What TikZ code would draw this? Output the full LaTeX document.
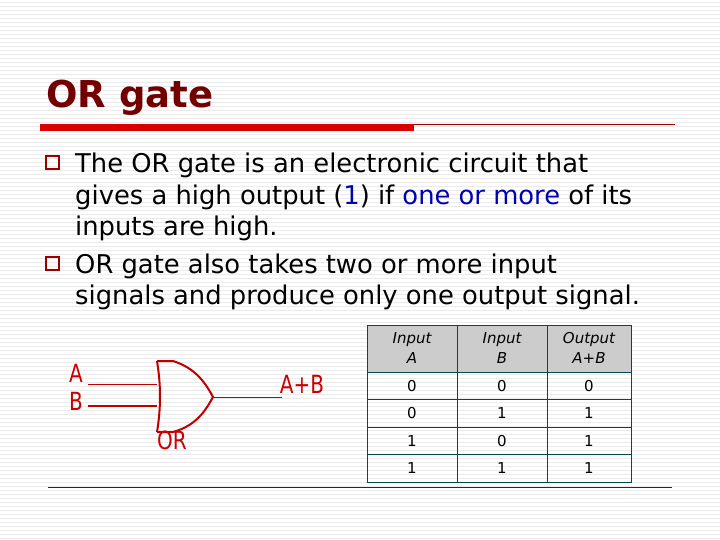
\documentclass[tikz,border=0pt]{standalone}
\usepackage{fontspec}
\setmainfont{DejaVu Sans}
\begin{document}
\begin{tikzpicture}[x=1pt,y=-1pt,
  body/.style={anchor=base west,inner sep=0pt,font=\fontsize{25.8}{30}\selectfont},
  cell/.style={font=\fontsize{15}{18}\selectfont,inner sep=0pt},
  gate/.style={draw=red!75!black,line width=2pt},
  glab/.style={text=red!80!black,font=\fontsize{25}{28}\selectfont,inner sep=0pt,xscale=0.8},
  bullet/.style={draw=red!60!black,line width=1.6pt}]
\useasboundingbox (0,0) rectangle (720,540);
\fill[white] (0,0) rectangle (720,540);
\foreach \y in {2,6,...,538} \draw[black!8,line width=0.6pt] (0,\y) -- (720,\y);
% title
\node[anchor=base west,inner sep=0pt,text=red!45!black,font=\fontsize{37}{44}\selectfont\bfseries] (title) at (46,108) {OR gate};
\fill[red!85!black] (40,124) rectangle (414,131);
\draw[red!60!black,line width=0.6pt] (414,124) -- (675,124);
% bullets
\draw[bullet] (46,156) rectangle (59,169);
\draw[bullet] (46,257) rectangle (59,270);
\node[body] (l1) at (75,173) {The OR gate is an electronic circuit that};
\node[body] (l2) at (75,205) {gives a high output (\textcolor{blue!70!black}{1}) if \textcolor{blue!70!black}{one or more} of its};
\node[body] (l3) at (75,236) {inputs are high.};
\node[body] (l4) at (75,273) {OR gate also takes two or more input};
\node[body] (l5) at (75,304) {signals and produce only one output signal.};
% gate
\draw[gate,line width=1pt] (88,384) -- (157,384);
\draw[gate] (88,406) -- (157,406);
\draw[gate] (157,361) -- (173,361) .. controls (195,368) and (205,382) .. (213,397) .. controls (205,412) and (195,426) .. (173,432) -- (157,432);
\draw[gate] (157,361) .. controls (161,385) and (161,408) .. (157,432);
\draw[gate,line width=1pt] (213,397) -- (282,397);
\node[glab] (a) at (76,373) {A};
\node[glab] (b) at (76,401) {B};
\node[glab] (ab) at (302,384) {A+B};
\node[glab] (or) at (172,440) {OR};
% table
\fill[black!20] (367,325) rectangle (631,372);
\draw[teal!60!black,line width=0.8pt] (367,325) rectangle (631,482);
\foreach \y in {372,399,427,454} \draw[teal!60!black,line width=0.8pt] (367,\y) -- (631,\y);
\foreach \x in {457,547} \draw[teal!60!black,line width=0.8pt] (\x,325) -- (\x,482);
\node[cell,align=center,font=\fontsize{15}{20}\selectfont\itshape] (h1) at (412,348) {Input\\A};
\node[cell,align=center,font=\fontsize{15}{20}\selectfont\itshape] (h2) at (502,348) {Input\\B};
\node[cell,align=center,font=\fontsize{15}{20}\selectfont\itshape] (h3) at (589,348) {Output\\A+B};
\node[cell] at (412,386) {0}; \node[cell] at (502,386) {0}; \node[cell] at (589,386) {0};
\node[cell] at (412,413) {0}; \node[cell] at (502,413) {1}; \node[cell] at (589,413) {1};
\node[cell] at (412,441) {1}; \node[cell] at (502,441) {0}; \node[cell] at (589,441) {1};
\node[cell] at (412,468) {1}; \node[cell] at (502,468) {1}; \node[cell] at (589,468) {1};
\draw[red!55!black,line width=0.8pt] (48,487) -- (672,487);
\end{tikzpicture}
\end{document}
